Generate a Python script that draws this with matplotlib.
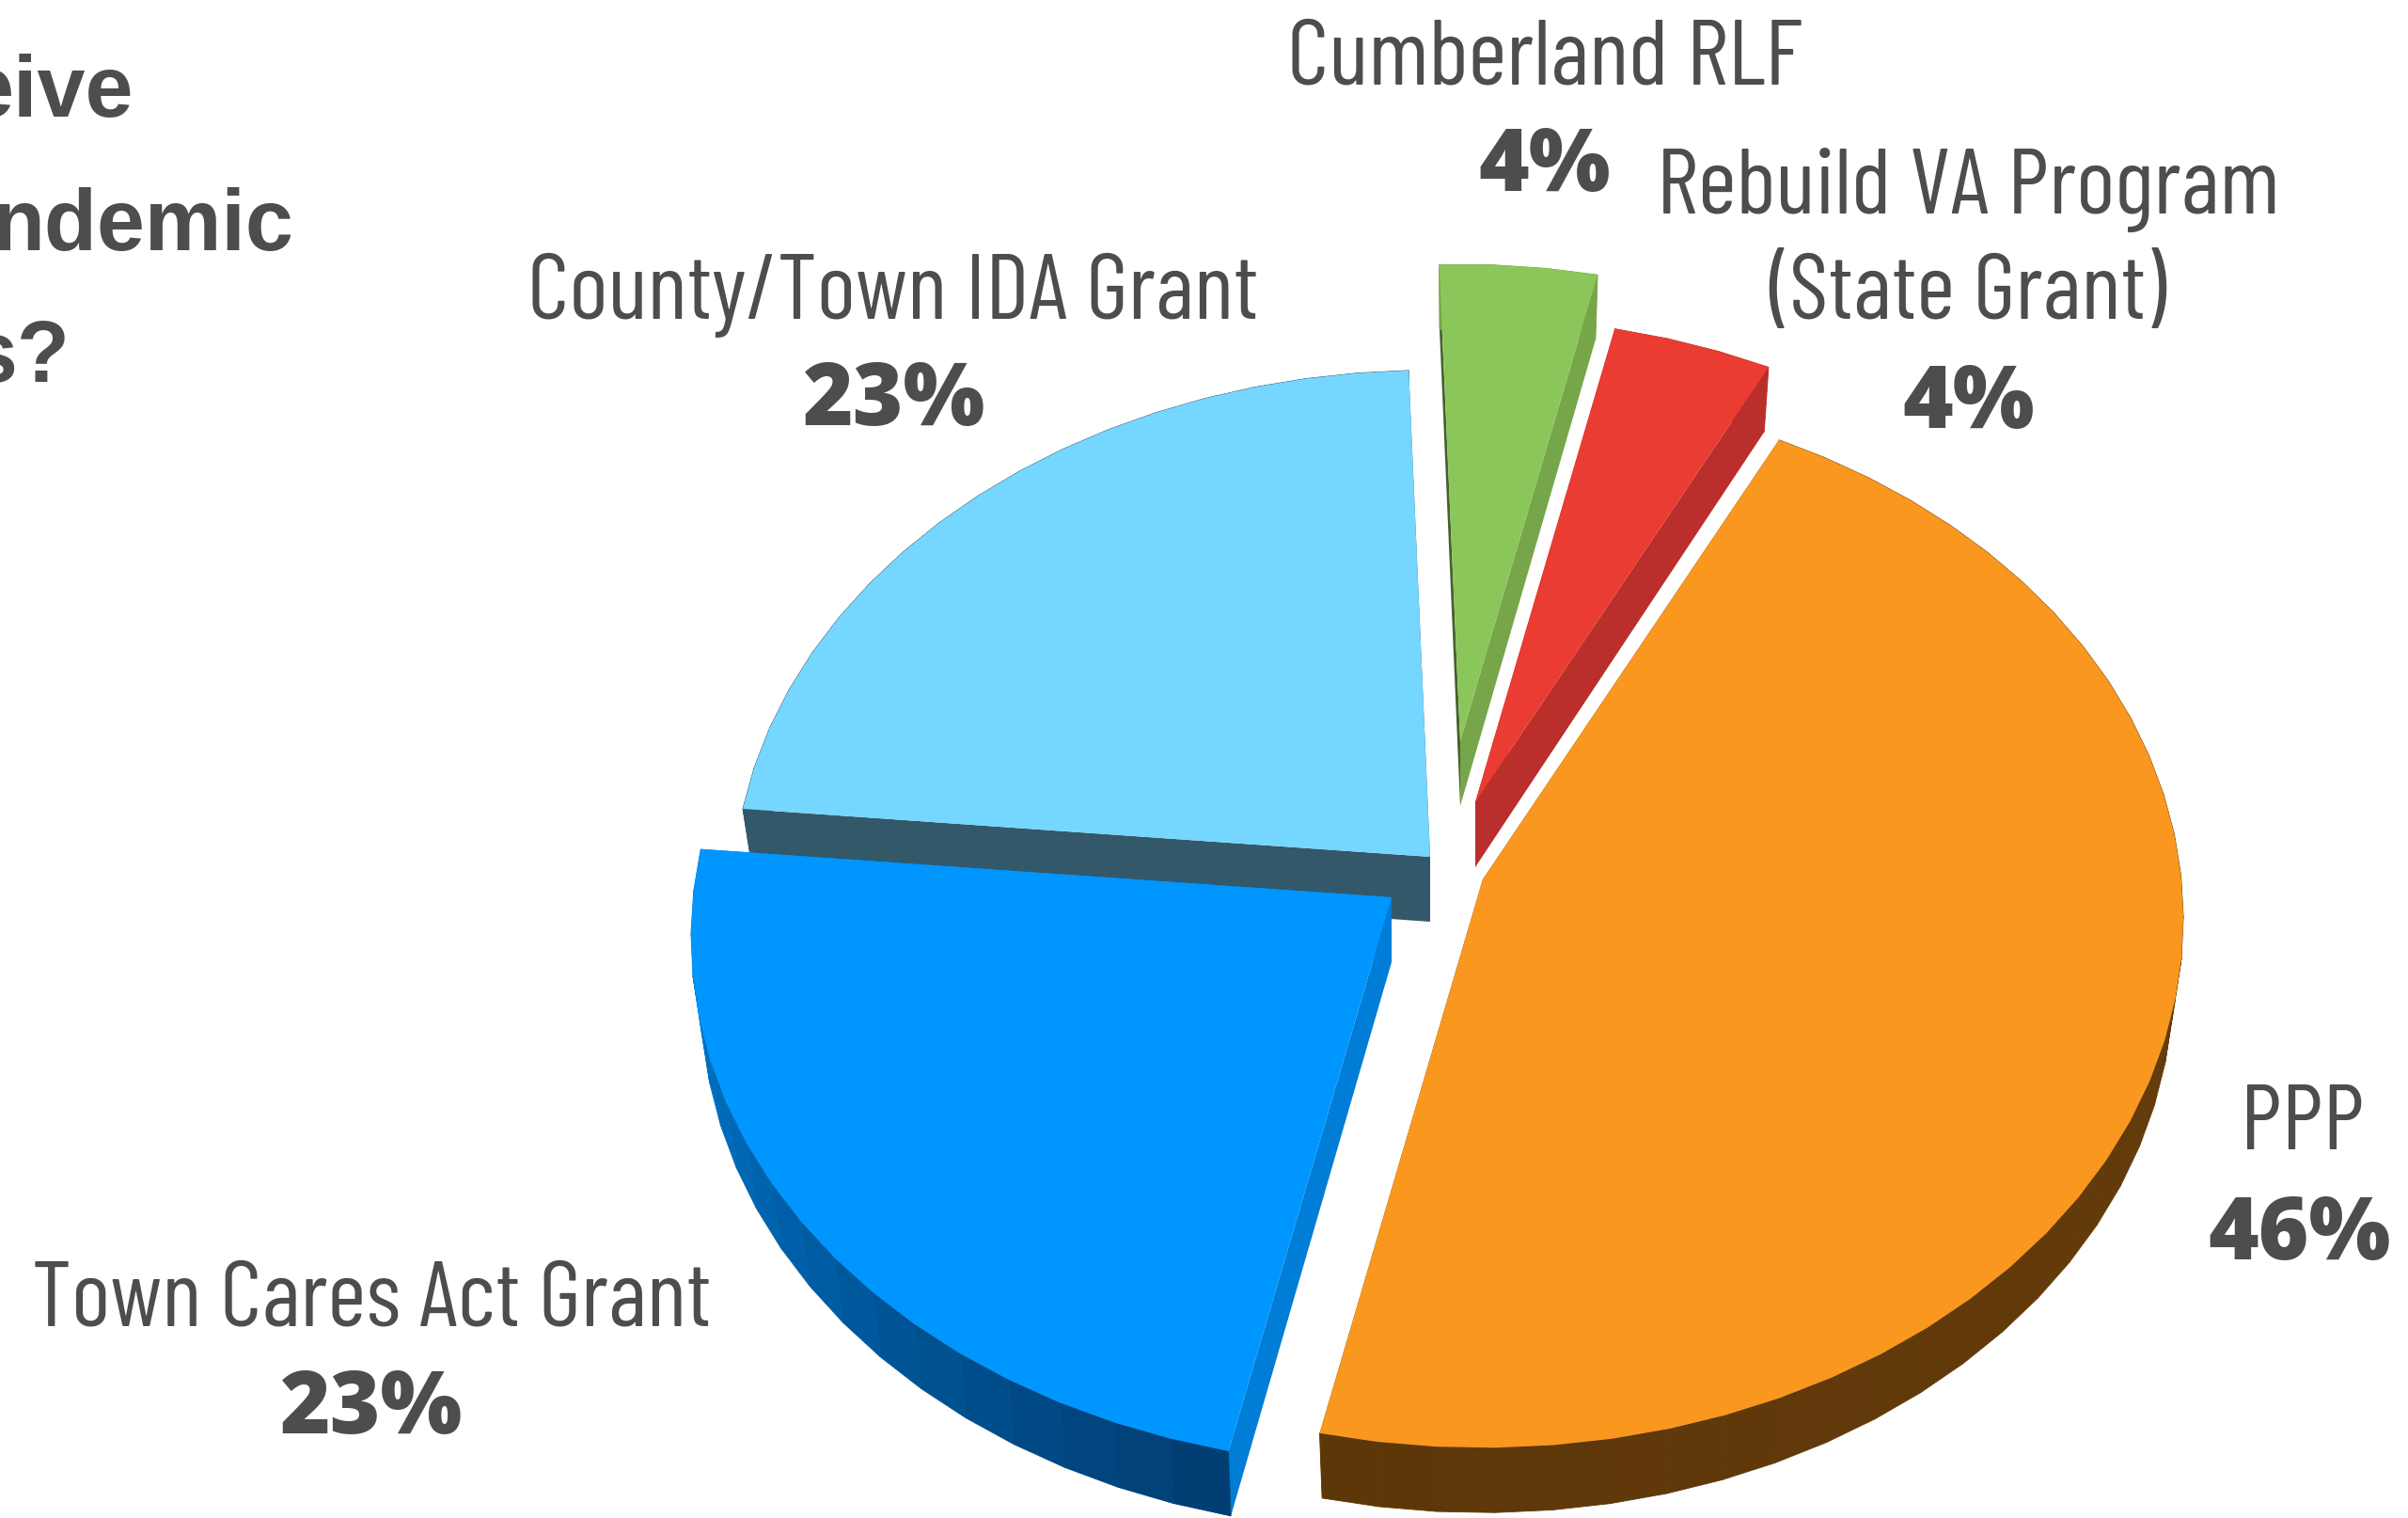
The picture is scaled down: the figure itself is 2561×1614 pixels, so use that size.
import numpy as np
import matplotlib
matplotlib.use("Agg")
import matplotlib.pyplot as plt
from matplotlib.colors import to_rgb

# Funding sources and their share of respondents
sources = ["PPP", "Town Cares Act Grant", "County/Town IDA Grant", "Cumberland RLF", "Rebuild VA Program\n(State Grant)"]
shares = [46, 23, 23, 4, 4]
share_labels = ["46%", "23%", "23%", "4%", "4%"]

top_colors = ["#FA971F", "#0096FF", "#75D6FF", "#8BC65A", "#EA3C32"]
start_wall_colors = ["#623A0A", "#007DD7", "#325869", "#46602C", "#BA2F2B"]
end_wall_colors = ["#623A0A", "#007DD7", "#325869", "#76A649", "#BA2F2B"]
rim_start_colors = ["#6A400C", "#003E73", "#325869", "#76A649", "#BA2F2B"]
rim_end_colors = ["#5E3709", "#007DD7", "#325869", "#76A649", "#BA2F2B"]

# Where each slice's point sits once pulled out of the pie, and how far its arc reaches
slice_tips = [(1577, 935), (1480, 954), (1521, 911), (1553, 788), (1569, 853)]
slice_reach = [1.0, 1.0, 0.995, 0.975, 0.99]
draw_order = [2, 3, 4, 0, 1]

FIRST_ANGLE = 26.9   # degrees clockwise from straight up
RADIUS_X = 743
RADIUS_Y = 559
PERSPECTIVE = 0.075
DEPTH = 69
BASE_SCALE_X = 0.985
BASE_SCALE_Y = 1.0
STEP = 4.5


def project(angles, tip, reach=1.0, sx=1.0, sy=1.0, drop=0.0):
    """Project rim angles of the tilted disc onto the canvas."""
    rad = np.radians(angles)
    u, v = np.sin(rad), np.cos(rad)
    w = 1 + PERSPECTIVE * v
    x = tip[0] + reach * sx * RADIUS_X * u / w
    y = tip[1] + drop - reach * sy * RADIUS_Y * v / w
    return x, y


fig = plt.figure(figsize=(25.61, 16.14), dpi=100, facecolor="white")
ax = fig.add_axes([0, 0, 1, 1])
ax.set_xlim(0, 2561)
ax.set_ylim(1614, 0)
ax.axis("off")

sweeps = np.array(shares) / sum(shares) * 360
starts = FIRST_ANGLE + np.concatenate([[0], np.cumsum(sweeps)[:-1]])

for layer, i in enumerate(draw_order):
    tip = slice_tips[i]
    count = max(2, int(round(sweeps[i] / STEP)) + 1)
    angles = np.linspace(starts[i], starts[i] + sweeps[i], count)
    tx, ty = project(angles, tip, slice_reach[i])
    bx, by = project(angles, tip, slice_reach[i], BASE_SCALE_X, BASE_SCALE_Y, DEPTH)
    z = 10 + 5 * layer

    # Flat side walls running from the tip to both ends of the arc
    ax.fill([tip[0], tx[0], bx[0], tip[0]],
            [tip[1], ty[0], by[0], tip[1] + DEPTH],
            color=start_wall_colors[i], lw=0, zorder=z)
    ax.fill([tip[0], tx[-1], bx[-1], tip[0]],
            [tip[1], ty[-1], by[-1], tip[1] + DEPTH],
            color=end_wall_colors[i], lw=0, zorder=z)

    # Outer rim, shaded along the arc
    c0, c1 = np.array(to_rgb(rim_start_colors[i])), np.array(to_rgb(rim_end_colors[i]))
    for k in range(count - 1):
        t = k / max(count - 2, 1)
        shade = tuple(c0 * (1 - t) + c1 * t)
        ax.fill([tx[k], tx[k + 1], bx[k + 1], bx[k]],
                [ty[k], ty[k + 1], by[k + 1], by[k]],
                color=shade, ec=shade, lw=0.6, zorder=z + 2)

    # Top face
    ax.fill(np.r_[tip[0], tx], np.r_[tip[1], ty], color=top_colors[i], lw=0, zorder=z + 3)

INK = "#4D4D4F"
NARROW = ["Barlow Condensed", "Roboto", "DejaVu Sans"]
HEAVY = ["Open Sans", "Lato", "DejaVu Sans"]

name_spots = [(2449, 1222), (395, 1409), (950, 339), (1643, 89), (2093, 339)]
share_spots = [(2446, 1339), (395, 1524), (951, 452), (1643, 203), (2094, 455)]

for name, (x, y) in zip(sources, name_spots):
    ax.text(x, y, name, family=NARROW, fontsize=71.5, color=INK, ha="center", va="baseline",
            linespacing=1.33, zorder=50, multialignment="center")
for label, (x, y) in zip(share_labels, share_spots):
    ax.text(x, y, label, family=HEAVY, weight=800, fontsize=66, color=INK, ha="center",
            va="baseline", zorder=50)

# Question text running off the left side of the page
for line, right, base in [("eive", 142, 124), ("ndemic", 313, 266), ("s?", 75, 406)]:
    ax.text(right, base, line, family=["Liberation Sans", "DejaVu Sans"], weight="bold",
            fontsize=66, color=INK, ha="right", va="baseline", zorder=50)

fig.savefig("out.png", dpi=100, facecolor="white")
